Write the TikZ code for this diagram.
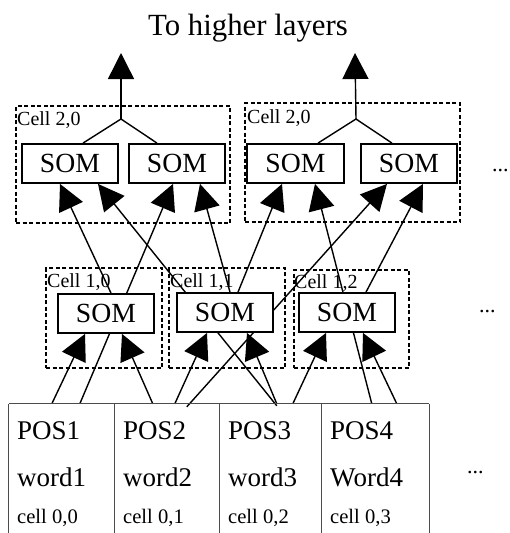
\documentclass[tikz,border=0pt]{standalone}
\usepackage{fontspec}
\setmainfont{Liberation Serif}
\usetikzlibrary{arrows.meta,backgrounds}

\begin{document}
\begin{tikzpicture}[x=1pt,y=-1pt,
  som/.style={draw,line width=1.8pt,fill=white,minimum width=96pt,minimum height=39pt,
    inner sep=0pt,font=\fontsize{27.7}{30}\selectfont},
  cellbox/.style={draw,line width=2pt,dash pattern=on 4pt off 2.5pt,inner sep=0pt},
  lbl/.style={anchor=base west,inner sep=0pt,font=\fontsize{20}{22}\selectfont},
  big/.style={anchor=base west,inner sep=0pt,font=\fontsize{27}{30}\selectfont},
  small/.style={anchor=base west,inner sep=0pt,font=\fontsize{20.6}{22}\selectfont},
  dots/.style={anchor=base west,inner sep=0pt,font=\fontsize{22}{24}\selectfont},
  tcell/.style={inner sep=0pt,minimum height=129pt},
  link/.style={line width=1.4pt},
  feed/.style={line width=1.4pt,-{Triangle[length=26pt,width=26pt]}},
  grid/.style={line width=1.1pt,black!70}
]
\useasboundingbox (0,0) rectangle (510,533);

% title
\node[anchor=base west,inner sep=0pt,font=\fontsize{30.8}{34}\selectfont] (title) at (148,35) {To higher layers};

% layer 2 cells
\node[cellbox,minimum width=214pt,minimum height=117pt] (d20a) at (123,164.5) {};
\node[cellbox,minimum width=215pt,minimum height=119pt] (d20b) at (352.5,162.5) {};
\node[lbl] (l20a) at (17,125) {Cell 2,0};
\node[lbl] (l20b) at (247,123) {Cell 2,0};

\node[som] (s1) at (70,163.5) {SOM};
\node[som] (s2) at (177,163.5) {SOM};
\node[som,minimum width=97pt] (s3) at (295.5,163.5) {SOM};
\node[som] (s4) at (409,163.5) {SOM};

% layer 1 cells
\node[cellbox,minimum width=116pt,minimum height=100pt] (d10) at (104,318) {};
\node[cellbox,minimum width=116pt,minimum height=100pt] (d11) at (227,318) {};
\node[cellbox,minimum width=115pt,minimum height=98pt] (d12) at (351.5,319) {};
\node[lbl] (l10) at (47,287) {Cell 1,0};
\node[lbl] (l11) at (170,287) {Cell 1,1};
\node[lbl] (l12) at (294,288) {Cell 1,2};

\node[som] (t0) at (106,313.5) {SOM};
\node[som] (t1) at (225,312.5) {SOM};
\node[som] (t2) at (347,312.5) {SOM};

% layer 0 table
\node[tcell,minimum width=106pt] (c0) at (62,468.5) {};
\node[tcell,minimum width=105pt] (c1) at (167.5,468.5) {};
\node[tcell,minimum width=102pt] (c2) at (271,468.5) {};
\node[tcell,minimum width=107pt] (c3) at (375.5,468.5) {};
\draw[grid] (c0.north west) -- (c3.north east);
\draw[grid] (c0.north west) -- (c0.south west);
\draw[grid] (c1.north west) -- (c1.south west);
\draw[grid] (c2.north west) -- (c2.south west);
\draw[grid] (c3.north west) -- (c3.south west);
\draw[grid] (c3.north east) -- (c3.south east);

\node[big] (p1) at (17,439) {POS1};
\node[big] (p2) at (123,439) {POS2};
\node[big] (p3) at (228,439) {POS3};
\node[big] (p4) at (330,439) {POS4};
\node[big] (w1) at (17,486) {word1};
\node[big] (w2) at (123,486) {word2};
\node[big] (w3) at (228,486) {word3};
\node[big] (w4) at (330,486) {Word4};
\node[small] (k1) at (17,523) {cell 0,0};
\node[small] (k2) at (123,523) {cell 0,1};
\node[small] (k3) at (228,523) {cell 0,2};
\node[small] (k4) at (330,523) {cell 0,3};

% ellipses
\node[dots] (e2) at (492,171) {...};
\node[dots] (e1) at (479,312) {...};
\node[dots] (e0) at (467,473) {...};

% outputs to higher layers
\coordinate (j1) at (121,119);
\coordinate (j2) at (356,119);
\coordinate (up1) at (121,53);
\coordinate (up2) at (355,53);

\begin{scope}[on background layer]
  % merge of each layer-2 cell
  \draw[link] ([xshift=13pt]s1.north) -- (j1) -- ([xshift=-20pt]s2.north);
  \draw[link] ([xshift=22.5pt]s3.north) -- (j2) -- ([xshift=-17pt]s4.north);
  \draw[feed] (j1) -- (up1);
  \draw[feed] (j2) -- (up2);

  % layer 1 and layer 0 into layer 2
  \draw[feed] ([xshift=5pt]t0.north) -- ([xshift=-10pt]s1.south);
  \draw[feed] ([xshift=57pt,yshift=-2pt]c2.north west) -- ([xshift=28pt]s1.south);
  \draw[feed] ([xshift=71pt]c0.north west) -- ([xshift=-4pt]s2.south);
  \draw[feed] ([xshift=5pt]t1.north) -- ([xshift=23pt]s2.south);
  \draw[feed] ([xshift=13pt]t1.north) -- ([xshift=-13.5pt]s3.south);
  \draw[feed] ([xshift=50pt]c3.north west) -- ([xshift=19.5pt]s3.south);
  \draw[feed] ([xshift=72pt,yshift=-3pt]c1.north west) -- ([xshift=-22pt]s4.south);
  \draw[feed] ([xshift=19pt]t2.north) -- ([xshift=14pt]s4.south);

  % layer 0 into layer 1
  \draw[feed] ([xshift=43pt]c0.north west) -- ([xshift=-21pt]t0.south);
  \draw[feed] ([xshift=38pt]c1.north west) -- ([xshift=16pt]t0.south);
  \draw[feed] ([xshift=60pt]c1.north west) -- ([xshift=-18pt]t1.south);
  \draw[feed] ([xshift=57pt]c2.north west) -- ([xshift=22pt]t1.south);
  \draw[feed] ([xshift=73pt]c2.north west) -- ([xshift=-21pt]t2.south);
  \draw[feed] ([xshift=75pt]c3.north west) -- ([xshift=16pt]t2.south);
\end{scope}
\end{tikzpicture}
\end{document}
